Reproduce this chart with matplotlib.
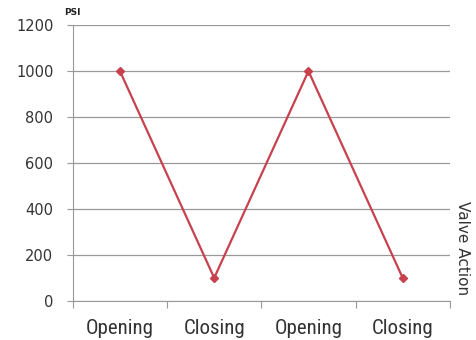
import matplotlib
matplotlib.use("Agg")
import matplotlib.pyplot as plt
from matplotlib import font_manager

categories = ["Opening", "Closing", "Opening", "Closing"]
psi = [1000, 100, 1000, 100]
yticks = [0, 200, 400, 600, 800, 1000, 1200]

names = {f.name for f in font_manager.fontManager.ttflist}
narrow = None
for cand in ["Liberation Sans Narrow", "DejaVu Sans Condensed", "Roboto Condensed", "Open Sans Condensed"]:
    if cand in names:
        narrow = cand
        break

fig = plt.figure(figsize=(4.76, 3.4), dpi=100)
ax = fig.add_axes([0.153, 0.115, 0.792, 0.811])

x = list(range(len(categories)))
ax.plot(x, psi, color="#C8414F", lw=1.6, marker="D", ms=4, zorder=3)

ax.set_xlim(-0.5, len(categories) - 0.5)
ax.set_ylim(0, 1200)
ax.set_yticks(yticks)
ax.set_yticklabels([str(v) for v in yticks], fontsize=10.5, color="#333333")
ax.set_xticks([i - 0.5 for i in range(len(categories) + 1)], minor=False)
ax.set_xticklabels([])
ax.set_xticks(x, minor=True)
if narrow:
    ax.set_xticklabels(categories, minor=True, fontsize=15, color="#333333", family=narrow)
else:
    ax.set_xticklabels(categories, minor=True, fontsize=15, color="#333333",
                       family="DejaVu Sans", fontstretch="condensed")
ax.tick_params(axis="x", which="minor", length=0, pad=13)
ax.tick_params(axis="x", which="major", length=5, color="#999999", direction="out")
ax.tick_params(axis="y", length=4, color="#999999", direction="out", pad=10)

ax.grid(axis="y", color="#999999", lw=0.9)
for s in ["top", "right"]:
    ax.spines[s].set_visible(False)
for s in ["left", "bottom"]:
    ax.spines[s].set_color("#999999")

fig.text(0.134, 0.955, "PSI", fontsize=6.5, fontweight="bold", color="#222222")
fig.text(0.972, 0.41, "Valve Action", rotation=270, fontsize=11, color="#333333",
         ha="center", va="top")

fig.savefig("out.png", dpi=100)
